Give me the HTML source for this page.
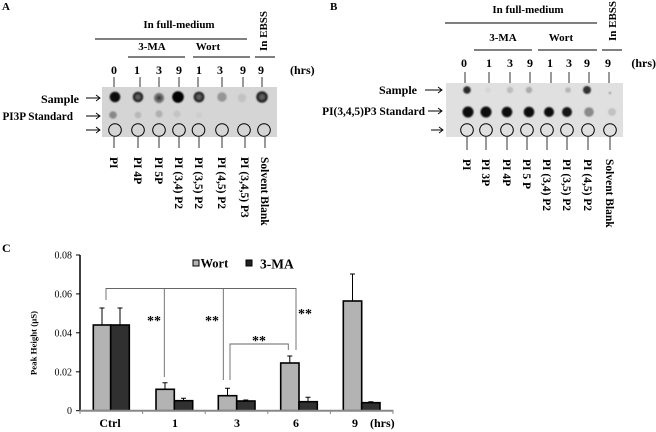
<!DOCTYPE html>
<html><head><meta charset="utf-8"><style>
html,body{margin:0;padding:0;background:#fff;}
svg{display:block;}
text{font-family:"Liberation Serif",serif;font-weight:bold;fill:#000;}
</style></head><body>
<svg width="656" height="432" viewBox="0 0 656 432" xmlns="http://www.w3.org/2000/svg">
<defs>
<filter id="bl" x="-50%" y="-50%" width="200%" height="200%"><feGaussianBlur stdDeviation="0.7"/></filter>
<radialGradient id="ring"><stop offset="0" stop-color="#666"/><stop offset="0.45" stop-color="#555"/><stop offset="0.7" stop-color="#1a1a1a"/><stop offset="1" stop-color="#333"/></radialGradient>
<radialGradient id="mid"><stop offset="0" stop-color="#222"/><stop offset="0.4" stop-color="#555"/><stop offset="1" stop-color="#8a8a8a"/></radialGradient>
</defs>

<!-- ============ PANEL A ============ -->
<text x="2" y="10" font-size="11">A</text>
<text x="179" y="28" font-size="11" text-anchor="middle">In full-medium</text>
<line x1="95" y1="39" x2="247" y2="39" stroke="#000" stroke-width="1"/>
<text x="152" y="50" font-size="11" text-anchor="middle">3-MA</text>
<text x="208" y="50" font-size="11" text-anchor="middle">Wort</text>
<line x1="128" y1="57" x2="185" y2="57" stroke="#000"/>
<line x1="193" y1="57" x2="250" y2="57" stroke="#000"/>
<line x1="255" y1="57" x2="275" y2="57" stroke="#000"/>
<text transform="translate(267,31) rotate(-90)" font-size="11" text-anchor="middle">In EBSS</text>
<g font-size="12" text-anchor="middle">
<text x="114" y="74">0</text><text x="137" y="74">1</text><text x="159" y="74">3</text><text x="179" y="74">9</text>
<text x="199" y="74">1</text><text x="220" y="74">3</text><text x="243" y="74">9</text><text x="261" y="74">9</text>
</g>
<text x="290" y="74" font-size="12">(hrs)</text>
<g stroke="#333" stroke-width="1">
<line x1="114" y1="77" x2="114" y2="87"/><line x1="140" y1="77" x2="140" y2="87"/><line x1="159" y1="77" x2="159" y2="87"/><line x1="179" y1="77" x2="179" y2="87"/>
<line x1="198" y1="77" x2="198" y2="87"/><line x1="222" y1="77" x2="222" y2="87"/><line x1="243" y1="77" x2="243" y2="87"/><line x1="262" y1="77" x2="262" y2="87"/>
</g>
<rect x="102" y="87" width="175" height="50" fill="#d5d5d5"/>
<text x="79" y="103" font-size="12" text-anchor="end">Sample</text>
<text x="73" y="120" font-size="11.2" text-anchor="end">PI3P Standard</text>
<g stroke="#000" stroke-width="0.9" fill="none">
<path d="M86 98 H100 M96 95 L100 98 L96 101"/>
<path d="M86 116 H100 M96 113 L100 116 L96 119"/>
<path d="M86 130 H100 M96 127 L100 130 L96 133"/>
</g>
<g filter="url(#bl)">
<circle cx="115" cy="97" r="5.3" fill="#080808"/>
<circle cx="138" cy="97" r="5.3" fill="url(#ring)"/>
<circle cx="159" cy="98" r="5.2" fill="url(#mid)"/>
<circle cx="178" cy="97" r="5.8" fill="#060606"/>
<circle cx="199" cy="97" r="5.4" fill="url(#ring)"/>
<circle cx="222" cy="97" r="4.7" fill="#969696"/>
<circle cx="242" cy="98" r="4.2" fill="#c2c2c2"/>
<circle cx="262" cy="97" r="5.8" fill="url(#ring)"/>
<circle cx="113" cy="115" r="3.8" fill="#888"/>
<circle cx="138" cy="115" r="3.3" fill="#b7b7b7"/>
<circle cx="159" cy="114" r="3.6" fill="#b0b0b0"/>
<circle cx="177" cy="114" r="3.6" fill="#c4c4c4"/>
<circle cx="199" cy="115" r="3" fill="#cdcdcd"/>
</g>
<g stroke="#000" stroke-width="1" fill="none">
<circle cx="115" cy="130" r="6.3"/><circle cx="138" cy="130" r="6.3"/><circle cx="159" cy="130" r="6.3"/><circle cx="179" cy="130" r="6.3"/>
<circle cx="198.5" cy="130" r="6.3"/><circle cx="222" cy="130" r="6.3"/><circle cx="244" cy="130" r="6.3"/><circle cx="264" cy="130" r="6.3"/>
</g>
<g stroke="#333" stroke-width="1">
<line x1="114" y1="137" x2="114" y2="148"/><line x1="138" y1="137" x2="138" y2="148"/><line x1="159" y1="137" x2="159" y2="148"/><line x1="179" y1="137" x2="179" y2="148"/>
<line x1="199" y1="137" x2="199" y2="148"/><line x1="222" y1="137" x2="222" y2="148"/><line x1="245" y1="137" x2="245" y2="148"/><line x1="265" y1="137" x2="265" y2="148"/>
</g>
<g font-size="11.5">
<text transform="translate(110,157) rotate(90)">PI</text>
<text transform="translate(134,157) rotate(90)">PI 4P</text>
<text transform="translate(155,157) rotate(90)">PI 5P</text>
<text transform="translate(175,157) rotate(90)">PI (3,4) P2</text>
<text transform="translate(195,157) rotate(90)">PI (3,5) P2</text>
<text transform="translate(218,157) rotate(90)">PI (4,5) P2</text>
<text transform="translate(241,157) rotate(90)">PI (3,4,5) P3</text>
<text transform="translate(261,157) rotate(90)">Solvent Blank</text>
</g>

<!-- ============ PANEL B ============ -->
<text x="330" y="10" font-size="11">B</text>
<text x="528" y="13" font-size="11" text-anchor="middle">In full-medium</text>
<line x1="445" y1="23" x2="597" y2="23" stroke="#000"/>
<text x="503" y="41" font-size="11" text-anchor="middle">3-MA</text>
<text x="561" y="41" font-size="11" text-anchor="middle">Wort</text>
<line x1="474" y1="50" x2="532" y2="50" stroke="#000"/>
<line x1="538" y1="50" x2="597" y2="50" stroke="#000"/>
<line x1="602" y1="50" x2="622" y2="50" stroke="#000"/>
<text transform="translate(616,21) rotate(-90)" font-size="11" text-anchor="middle">In EBSS</text>
<g font-size="12" text-anchor="middle">
<text x="464" y="67">0</text><text x="489" y="67">1</text><text x="510" y="67">3</text><text x="530" y="67">9</text>
<text x="550" y="67">1</text><text x="569" y="67">3</text><text x="587" y="67">9</text><text x="608" y="67">9</text>
</g>
<text x="656" y="67" font-size="12" text-anchor="end">(hrs)</text>
<g stroke="#333" stroke-width="1">
<line x1="465" y1="72" x2="465" y2="83"/><line x1="489" y1="72" x2="489" y2="83"/><line x1="510" y1="72" x2="510" y2="83"/><line x1="530" y1="72" x2="530" y2="83"/>
<line x1="551" y1="72" x2="551" y2="83"/><line x1="569" y1="72" x2="569" y2="83"/><line x1="589" y1="72" x2="589" y2="83"/><line x1="609" y1="72" x2="609" y2="83"/>
</g>
<rect x="446" y="83" width="177" height="54" fill="#e0e0e0"/>
<text x="417" y="94" font-size="12" text-anchor="end">Sample</text>
<text x="425" y="115" font-size="11.4" text-anchor="end">PI(3,4,5)P3 Standard</text>
<g stroke="#000" stroke-width="0.9" fill="none">
<path d="M425 90 H442 M438 87 L442 90 L438 93"/>
<path d="M428 111 H442 M438 108 L442 111 L438 114"/>
<path d="M431 130 H443 M439 127 L443 130 L439 133"/>
</g>
<g filter="url(#bl)">
<circle cx="467" cy="90" r="3.8" fill="#2a2a2a"/>
<circle cx="488" cy="90" r="3" fill="#d6d6d6"/>
<circle cx="510" cy="90" r="3.2" fill="#bdbdbd"/>
<circle cx="529" cy="90" r="3.2" fill="#ababab"/>
<circle cx="568" cy="90" r="2.8" fill="#b5b5b5"/>
<circle cx="587" cy="90" r="4" fill="#333"/>
<circle cx="610" cy="93" r="1.2" fill="#999"/>
<circle cx="468" cy="112" r="5.5" fill="#070707"/>
<circle cx="486" cy="112" r="5.5" fill="#080808"/>
<circle cx="507" cy="112" r="5.3" fill="#080808"/>
<circle cx="529" cy="112" r="5.3" fill="#080808"/>
<circle cx="549" cy="112" r="5" fill="#0c0c0c"/>
<circle cx="567" cy="112" r="5" fill="#141414"/>
<circle cx="589" cy="112" r="4.8" fill="#8a8a8a"/>
<circle cx="612" cy="112" r="4" fill="#c2c2c2"/>
</g>
<g stroke="#000" stroke-width="1" fill="none">
<circle cx="467" cy="130" r="6.3"/><circle cx="486" cy="130" r="6.3"/><circle cx="507" cy="130" r="6.3"/><circle cx="527" cy="130" r="6.3"/>
<circle cx="547" cy="130" r="6.3"/><circle cx="567" cy="130" r="6.3"/><circle cx="588" cy="130" r="6.3"/><circle cx="610" cy="130" r="6.3"/>
</g>
<g stroke="#333" stroke-width="1">
<line x1="467" y1="137" x2="467" y2="150"/><line x1="486" y1="137" x2="486" y2="150"/><line x1="507" y1="137" x2="507" y2="150"/><line x1="527" y1="137" x2="527" y2="150"/>
<line x1="547" y1="137" x2="547" y2="150"/><line x1="567" y1="137" x2="567" y2="150"/><line x1="588" y1="137" x2="588" y2="150"/><line x1="610" y1="137" x2="610" y2="150"/>
</g>
<g font-size="11.5">
<text transform="translate(463,159) rotate(90)">PI</text>
<text transform="translate(482,159) rotate(90)">PI 3P</text>
<text transform="translate(503,159) rotate(90)">PI 4P</text>
<text transform="translate(523,159) rotate(90)">PI 5 P</text>
<text transform="translate(543,159) rotate(90)">PI (3,4) P2</text>
<text transform="translate(563,159) rotate(90)">PI (3,5) P2</text>
<text transform="translate(584,159) rotate(90)">PI (4,5) P2</text>
<text transform="translate(606,159) rotate(90)">Solvent Blank</text>
</g>

<!-- ============ PANEL C ============ -->
<text x="2" y="252" font-size="12">C</text>
<line x1="80" y1="255" x2="80" y2="411" stroke="#000" stroke-width="1.5"/>
<g stroke="#000" stroke-width="1">
<line x1="76" y1="255" x2="80" y2="255"/><line x1="76" y1="293.9" x2="80" y2="293.9"/><line x1="76" y1="332.8" x2="80" y2="332.8"/><line x1="76" y1="371.8" x2="80" y2="371.8"/><line x1="76" y1="410.7" x2="80" y2="410.7"/>
</g>
<g font-size="10" text-anchor="end">
<text x="72" y="258.5" style="font-weight:normal">0.08</text>
<text x="72" y="297.4" style="font-weight:normal">0.06</text>
<text x="72" y="336.3" style="font-weight:normal">0.04</text>
<text x="72" y="375.3" style="font-weight:normal">0.02</text>
<text x="72" y="414.2" style="font-weight:normal">0</text>
</g>
<text transform="translate(36.5,343) rotate(-90)" font-size="8.8" text-anchor="middle">Peak Height (µS)</text>

<g stroke="#666" stroke-width="0.9" fill="none">
<path d="M106 300 V288.5 H296 V350"/>
<line x1="164.3" y1="288.5" x2="164.3" y2="377"/>
<line x1="223.3" y1="288.5" x2="223.3" y2="380"/>
<path d="M230 380 V344 H288.3 V350"/>
</g>
<g font-size="14">
<text x="147" y="325">**</text>
<text x="205" y="325">**</text>
<text x="298" y="318">**</text>
<text x="252" y="345">**</text>
</g>

<g stroke="#000" stroke-width="1.6">
<rect x="93.3" y="325" width="17.4" height="85.7" fill="#b3b3b3"/>
<rect x="110.7" y="325" width="18.6" height="85.7" fill="#303030"/>
<rect x="156" y="389.3" width="18.3" height="21.4" fill="#b3b3b3"/>
<rect x="174.3" y="400.7" width="18.4" height="10" fill="#303030"/>
<rect x="218.3" y="395.7" width="18.4" height="15" fill="#b3b3b3"/>
<rect x="236.7" y="401" width="18.3" height="9.7" fill="#303030"/>
<rect x="280.7" y="363" width="18.3" height="47.7" fill="#b3b3b3"/>
<rect x="299" y="401.7" width="18.3" height="9" fill="#303030"/>
<rect x="343.3" y="301" width="18.4" height="109.7" fill="#b3b3b3"/>
<rect x="361.7" y="402.7" width="18.3" height="8" fill="#303030"/>
</g>
<g stroke="#000" stroke-width="1">
<path d="M102 325 V308 M99.5 308 H104.5"/>
<path d="M120 325 V308 M117.5 308 H122.5"/>
<path d="M165 389.3 V382.7 M162.5 382.7 H167.5"/>
<path d="M183.5 400.7 V398.3 M181 398.3 H186"/>
<path d="M227.5 395.7 V388.3 M225 388.3 H230"/>
<path d="M245.8 401 V400 M243.3 400 H248.3"/>
<path d="M289.8 363 V356 M287.3 356 H292.3"/>
<path d="M308 401.7 V397.3 M305.5 397.3 H310.5"/>
<path d="M352.5 301 V274 M350 274 H355"/>
<path d="M370.8 402.7 V401.7 M368.3 401.7 H373.3"/>
</g>
<line x1="80" y1="410.7" x2="393" y2="410.7" stroke="#888" stroke-width="2"/>
<g stroke="#888" stroke-width="1">
<line x1="80" y1="410" x2="80" y2="414"/><line x1="142.6" y1="410" x2="142.6" y2="414"/><line x1="205.2" y1="410" x2="205.2" y2="414"/>
<line x1="267.8" y1="410" x2="267.8" y2="414"/><line x1="330.4" y1="410" x2="330.4" y2="414"/><line x1="393" y1="410" x2="393" y2="414"/>
</g>
<g font-size="12" text-anchor="middle">
<text x="110" y="427">Ctrl</text>
<text x="175" y="427">1</text>
<text x="237" y="427">3</text>
<text x="296" y="427">6</text>
<text x="355" y="427">9</text>
</g>
<text x="370" y="427" font-size="12">(hrs)</text>

<rect x="193" y="260" width="6" height="6" fill="#b3b3b3" stroke="#000" stroke-width="1"/>
<text x="200.5" y="267.5" font-size="12.5">Wort</text>
<rect x="246" y="260" width="6" height="6" fill="#222" stroke="#000" stroke-width="1"/>
<text x="260" y="268.5" font-size="13.5">3-MA</text>
</svg>
</body></html>
